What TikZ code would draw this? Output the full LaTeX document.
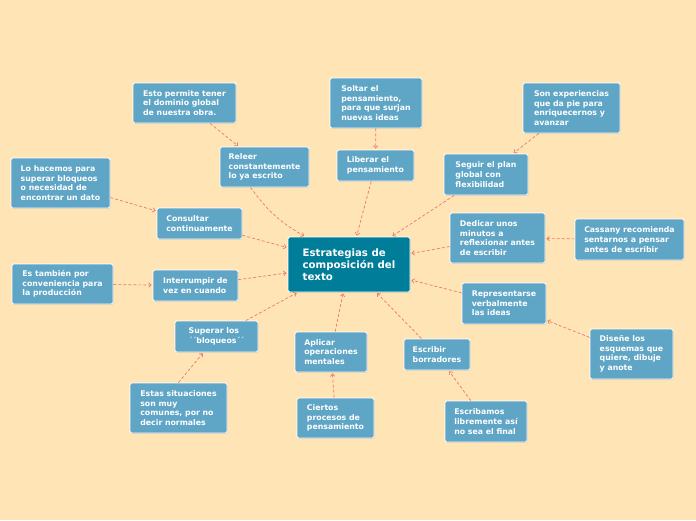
\documentclass[tikz,border=0pt]{standalone}
\usepackage{fontspec}
\setmainfont{DejaVu Sans}
\usetikzlibrary{arrows.meta,shadows}
\definecolor{paper}{RGB}{255,229,181}
\definecolor{leafblue}{RGB}{95,165,198}
\definecolor{rootteal}{RGB}{0,126,153}
\definecolor{linkred}{RGB}{238,118,108}
\begin{document}
\begin{tikzpicture}[x=1pt,y=-1pt,
  leaf/.style={draw=white,line width=0.9pt,fill=leafblue,rounded corners=1.5pt,
    text=white,align=left,inner sep=0pt,
    font=\bfseries\fontsize{7.8}{9.6}\selectfont,
    drop shadow={shadow xshift=0.6pt,shadow yshift=-0.8pt,opacity=0.3}},
  root/.style={leaf,fill=rootteal,font=\bfseries\fontsize{10.2}{12}\selectfont},
  link/.style={draw=linkred,line width=0.7pt,dash pattern=on 3pt off 2pt,
    -{Straight Barb[length=2.5pt,width=4.5pt]},shorten >=1pt}]
  \fill[paper] (0,0) rectangle (696,520);
  \useasboundingbox (0,0) rectangle (696,520);
  \node[root,minimum width=122pt,minimum height=55pt] (ctr) at (349,264.5)
    {Estrategias de\\composición del\\texto};
  \node[leaf,minimum width=103pt,minimum height=40pt] (esto) at (184.5,103)
    {Esto permite tener\\el dominio global\\de nuestra obra.};
  \node[leaf,minimum width=89pt,minimum height=40pt] (releer) at (264.5,167)
    {Releer\\constantemente\\lo ya escrito};
  \node[leaf,minimum width=92pt,minimum height=50pt] (soltar) at (376,103)
    {Soltar el\\pensamiento,\\para que surjan\\nuevas ideas};
  \node[leaf,minimum width=77pt,minimum height=31pt] (liberar) at (375.5,165.5)
    {Liberar el\\pensamiento};
  \node[leaf,minimum width=97pt,minimum height=50pt] (sonexp) at (571.5,108)
    {Son experiencias\\que da pie para\\enriquecernos y\\avanzar};
  \node[leaf,minimum width=84pt,minimum height=41pt] (seguir) at (486,174.5)
    {Seguir el plan\\global con\\flexibilidad};
  \node[leaf,minimum width=99pt,minimum height=50pt] (hacemos) at (60.5,183)
    {Lo hacemos para\\superar bloqueos\\o necesidad de\\encontrar un dato};
  \node[leaf,minimum width=85pt,minimum height=31pt] (consultar) at (199.5,223.5)
    {Consultar\\continuamente};
  \node[leaf,minimum width=95pt,minimum height=50pt] (dedicar) at (497.5,238)
    {Dedicar unos\\minutos a\\reflexionar antes\\de escribir};
  \node[leaf,minimum width=109pt,minimum height=41pt] (cassany) at (629.5,239.5)
    {Cassany recomienda\\sentarnos a pensar\\antes de escribir};
  \node[leaf,minimum width=101pt,minimum height=40pt] (tambien) at (62.5,284)
    {Es también por\\conveniencia para\\la producción};
  \node[leaf,minimum width=85pt,minimum height=31pt] (interrumpir) at (195.5,285.5)
    {Interrumpir de\\vez en cuando};
  \node[leaf,minimum width=84pt,minimum height=41pt] (representar) at (504,303.5)
    {Representarse\\verbalmente\\las ideas};
  \node[leaf,minimum width=83pt,minimum height=31pt] (superar) at (216.5,336.5)
    {Superar los\\´´bloqueos´´};
  \node[leaf,minimum width=72pt,minimum height=40pt] (aplicar) at (331,352)
    {Aplicar\\operaciones\\mentales};
  \node[leaf,minimum width=66pt,minimum height=31pt] (escribir) at (437,354.5)
    {Escribir\\borradores};
  \node[leaf,minimum width=83pt,minimum height=50pt] (disene) at (631.5,354)
    {Diseñe los\\esquemas que\\quiere, dibuje\\y anote};
  \node[leaf,minimum width=97pt,minimum height=50pt] (estas) at (178.5,408)
    {Estas situaciones\\son muy\\comunes, por no\\decir normales};
  \node[leaf,minimum width=77pt,minimum height=40pt] (ciertos) at (335.5,418)
    {Ciertos\\procesos de\\pensamiento};
  \node[leaf,minimum width=82pt,minimum height=41pt] (escribamos) at (486,421.5)
    {Escribamos\\libremente así\\no sea el final};
  \draw[link] (esto) -- (releer);
  \draw[link] ([xshift=-14pt]releer.south) to[bend right=12] ([xshift=-44pt]ctr.north);
  \draw[link] (soltar) -- (liberar);
  \draw[link] (liberar) -- (ctr);
  \draw[link] (sonexp) -- (seguir);
  \draw[link] (seguir) -- (ctr);
  \draw[link] (hacemos) -- (consultar);
  \draw[link] (consultar) -- (ctr);
  \draw[link] (cassany) -- (dedicar);
  \draw[link] (dedicar) -- (ctr);
  \draw[link] (tambien) -- (interrumpir);
  \draw[link] (interrumpir) -- (ctr);
  \draw[link] (disene) -- (representar);
  \draw[link] (representar) -- (ctr);
  \draw[link] (estas.north) -- (superar);
  \draw[link] (superar) -- (ctr);
  \draw[link] (ciertos) -- (aplicar);
  \draw[link] (aplicar) -- (ctr);
  \draw[link] (escribamos) -- (escribir);
  \draw[link] (escribir) -- (ctr);
\end{tikzpicture}
\end{document}
